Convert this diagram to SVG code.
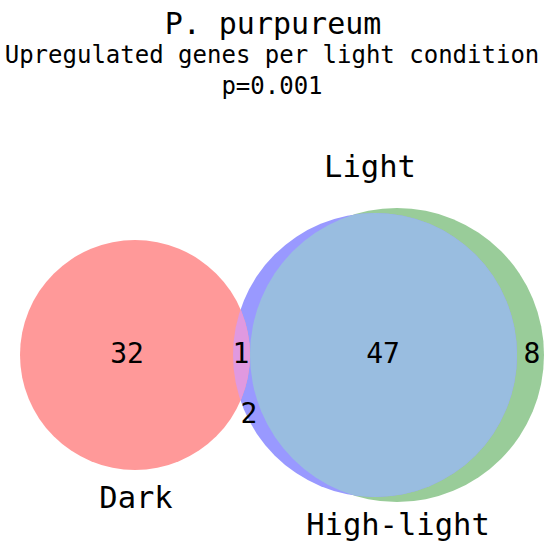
<svg xmlns="http://www.w3.org/2000/svg" width="544" height="551" viewBox="0 0 544 551">
<style>
text{font-family:"DejaVu Sans Mono","Liberation Mono",monospace;fill:#000;text-anchor:middle}
.t{font-size:30px}
.s{font-size:24px}
.n{font-size:28px}
.l{font-size:30.5px}
</style>
<defs>
<clipPath id="cGreen"><circle cx="397" cy="355" r="147"/></clipPath>
<clipPath id="cBlue"><circle cx="375" cy="355" r="142"/></clipPath>
</defs>
<rect width="544" height="551" fill="#fff"/>
<g id="title">
<text class="t" x="273" y="34">P. purpureum</text>
<text class="s" x="272" y="63">Upregulated genes per light condition</text>
<text class="s" x="272" y="94">p=0.001</text>
</g>
<g id="light">
<circle cx="397" cy="355" r="147" fill="#99cc99"/>
<text class="l" x="370" y="177">Light</text>
</g>
<g id="high-light">
<circle cx="375" cy="355" r="142" fill="#9999ff"/>
<text class="l" x="398" y="535">High-light</text>
</g>
<g id="light-high-light">
<circle cx="375" cy="355" r="142" fill="#99bde0" clip-path="url(#cGreen)"/>
</g>
<g id="dark">
<circle cx="135" cy="355" r="115" fill="#ff9999"/>
<text class="l" x="136" y="508">Dark</text>
</g>
<g id="dark-high-light">
<circle cx="135" cy="355" r="115" fill="#e099e0" clip-path="url(#cBlue)"/>
</g>
<g id="counts">
<text class="n" x="127" y="363">32</text>
<text class="n" x="241" y="363">1</text>
<text class="n" x="249" y="423">2</text>
<text class="n" x="383" y="363">47</text>
<text class="n" x="532" y="363">8</text>
</g>
</svg>
